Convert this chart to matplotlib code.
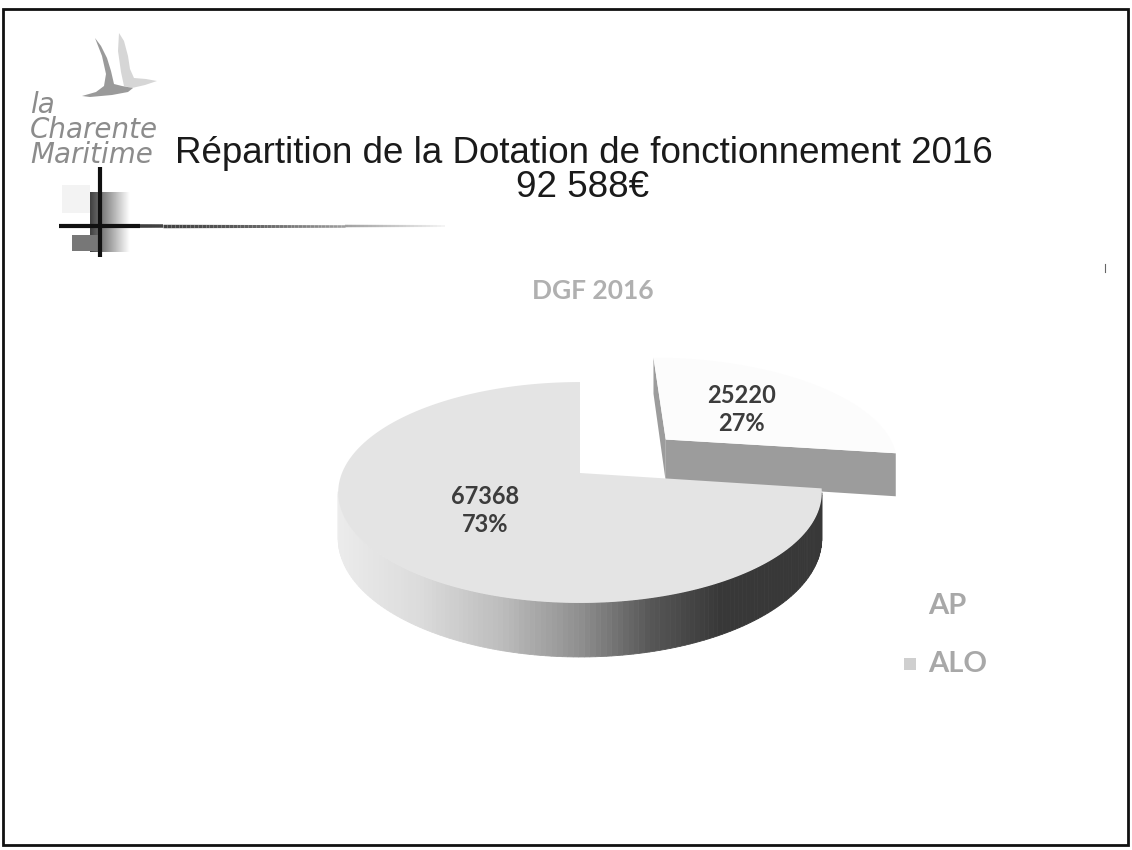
import numpy as np
import matplotlib
matplotlib.use('Agg')
import matplotlib.pyplot as plt
from matplotlib.patches import Polygon, Rectangle

# ---------------- data ----------------
categories = ['AP', 'ALO']
values = [25220, 67368]
explode = [0.505, 0.0]
main_title = 'Répartition de la Dotation de fonctionnement 2016'
total_label = '92 588€'
chart_title = 'DGF 2016'
logo_lines = ['la', 'Charente', 'Maritime']

# ---------------- figure ----------------
W, H = 1132, 850
fig = plt.figure(figsize=(W / 100, H / 100), dpi=100)
ax = fig.add_axes([0, 0, 1, 1])
ax.set_xlim(0, W)
ax.set_ylim(H, 0)
ax.axis('off')

# slide border
ax.add_patch(Rectangle((3, 9), 1125, 836, fill=False, ec='#111111', lw=2))

# ---------------- logo ----------------
dy = 6
dark_wing = [(95, 32), (101, 40), (107, 52), (111, 65), (114, 78), (122, 80), (133, 82),
             (128, 86), (112, 89), (90, 91), (82, 90), (96, 86), (104, 80), (106, 68), (102, 50)]
light_wing = [(119, 27), (124, 35), (128, 50), (130, 63), (134, 72), (146, 73), (157, 75),
              (145, 79), (132, 82), (124, 80), (121, 66), (118, 45)]
ax.add_patch(Polygon([(x, y + dy) for x, y in light_wing], closed=True, fc='#d6d6d6', ec='none'))
ax.add_patch(Polygon([(x, y + dy) for x, y in dark_wing], closed=True, fc='#9a9a9a', ec='none'))
ax.text(30, 163, '\n'.join(logo_lines), fontsize=20, style='italic', family='DejaVu Sans',
        color='#8c8c8c', va='baseline', ha='left', linespacing=0.86)

# decoration cross with gradients
grad = np.linspace(0.25, 1.0, 64).reshape(1, -1)
ax.imshow(grad, extent=(90, 130, 252, 192), cmap='gray', vmin=0, vmax=1, aspect='auto', zorder=1)
ax.add_patch(Rectangle((62, 185), 28, 28, fc='#f3f3f3', ec='none', zorder=1))
ax.add_patch(Rectangle((72, 235), 28, 16, fc='#777777', ec='none', zorder=1))
ax.plot([100, 100], [167, 257], color='#111111', lw=3, zorder=3, solid_capstyle='butt')
ax.plot([59, 140], [226, 226], color='#111111', lw=3, zorder=3, solid_capstyle='butt')
xs_line = np.linspace(140, 445, 80)
for i in range(len(xs_line) - 1):
    f = i / (len(xs_line) - 1)
    g = 0.25 + 0.72 * f ** 1.6
    ax.plot(xs_line[i:i + 2], [226, 226], color=str(g), lw=2.6 - 1.2 * f, zorder=3,
            solid_capstyle='butt')
ax.plot([1105, 1105], [264, 272], color='#666666', lw=0.8)

# ---------------- titles ----------------
ax.text(584, 163, main_title, ha='center', va='baseline', fontsize=26.5,
        family='Liberation Sans', color='#1a1a1a')
ax.text(583, 197, total_label, ha='center', va='baseline', fontsize=26.5,
        family='Liberation Sans', color='#1a1a1a')
ax.text(593, 291, chart_title, ha='center', va='center', fontsize=19, fontweight='bold',
        family='Lato', color='#b0b0b0')

# ---------------- 3D pie ----------------
CX, CY = 580, 473
A, E, HP, T = 238.0, -107.0, 0.1765, 44.5
CAM = np.array([0.0, -1.0 / HP])


def proj(X, Y, Z=0.0):
    d = 1 + HP * np.asarray(Y)
    return CX + A * np.asarray(X) / d, CY + (E * np.asarray(Y) + T * Z) / d


def wall_gray(x):
    xp = [330, 420, 500, 580, 650, 720, 830]
    gp = [0.93, 0.86, 0.74, 0.56, 0.34, 0.22, 0.22]
    return np.interp(x, xp, gp)


fracs = np.array(values, dtype=float) / np.sum(values)
starts = 360 * np.concatenate([[0], np.cumsum(fracs)[:-1]])
ends = starts + 360 * fracs
top_colors = ['#fcfcfc', '#e4e4e4']
cut_colors = ['#9c9c9c', '#a8a8a8']

order = np.argsort(-np.array(explode))  # farthest (exploded) first
for i in order:
    s, e = starts[i], ends[i]
    mid = np.radians((s + e) / 2)
    ox, oy = explode[i] * np.sin(mid), explode[i] * np.cos(mid)
    th = np.radians(np.linspace(s, e, 240))
    RX, RY = ox + np.sin(th), oy + np.cos(th)
    tx, ty = proj(RX, RY, 0)
    bx, by = proj(RX, RY, 1)
    cxt, cyt = proj(ox, oy, 0)
    cxb, cyb = proj(ox, oy, 1)
    # outer wall
    for k in range(len(th) - 1):
        tm = (th[k] + th[k + 1]) / 2
        n = np.array([np.sin(tm), np.cos(tm)])
        P = np.array([ox + n[0], oy + n[1]])
        if np.dot(n, CAM - P) <= 0:
            continue
        quad = [(tx[k], ty[k]), (tx[k + 1], ty[k + 1]), (bx[k + 1], by[k + 1]), (bx[k], by[k])]
        g = wall_gray((tx[k] + tx[k + 1]) / 2)
        ax.add_patch(Polygon(quad, closed=True, fc=str(g), ec=str(g), lw=0.6, zorder=5))
    # radial cut faces
    Cc = np.array([ox, oy])
    for ang, sign, idx in [(s, -1, 0), (e, 1, -1)]:
        a_n = np.radians(ang + sign * 90)
        n = np.array([np.sin(a_n), np.cos(a_n)])
        if np.dot(n, CAM - Cc) <= 1e-6:
            continue
        face = [(cxt, cyt), (tx[idx], ty[idx]), (bx[idx], by[idx]), (cxb, cyb)]
        ax.add_patch(Polygon(face, closed=True, fc=cut_colors[i], ec='none', zorder=5))
    # top face
    top = [(cxt, cyt)] + list(zip(tx, ty))
    ax.add_patch(Polygon(top, closed=True, fc=top_colors[i], ec='none', zorder=6))
    # label
    r_lab = 0.5
    lx, ly = proj(ox + r_lab * np.sin(mid), oy + r_lab * np.cos(mid), 0)
    ax.text(lx, ly, f'{values[i]}\n{round(fracs[i] * 100)}%', ha='center', va='center',
            fontsize=17, fontweight='bold', family='Lato', color='#3c3c3c', zorder=8,
            linespacing=1.25)

# ---------------- legend ----------------
leg_y = [606, 664]
marker_colors = ['#ffffff', '#cfcfcf']
for cat, yy, mc in zip(categories, leg_y, marker_colors):
    ax.add_patch(Rectangle((904, yy - 6), 12, 12, fc=mc, ec='none'))
    ax.text(928, yy, cat, ha='left', va='center', fontsize=21, fontweight='bold',
            family='Lato', color='#a8a8a8')

fig.savefig('out.png', dpi=100)
